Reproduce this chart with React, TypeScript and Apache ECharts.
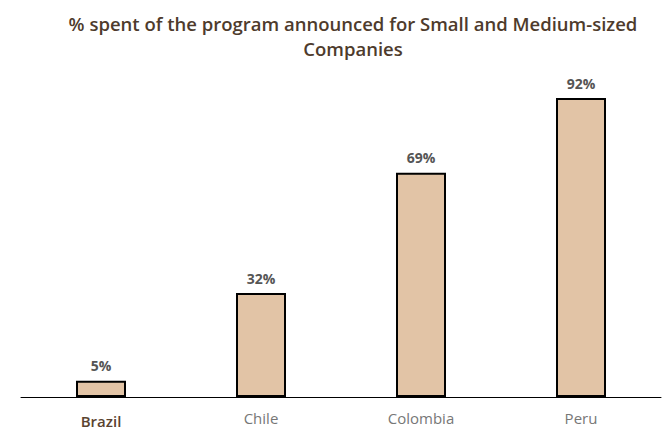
import React, { useEffect, useRef } from "react";
import * as echarts from "echarts";

const categories = ["Brazil", "Chile", "Colombia", "Peru"];
const values = [5, 32, 69, 92];
const titleText = "% spent of the program announced for Small and Medium-sized\nCompanies";

export default function App() {
  const ref = useRef<HTMLDivElement>(null);
  useEffect(() => {
    document.body.style.margin = "0";
    if (!ref.current) return;
    const chart = echarts.init(ref.current, null, { renderer: "svg" });
    chart.setOption({
      animation: false,
      title: {
        text: titleText,
        left: 353,
        top: 11,
        padding: 0,
        textAlign: "center",
        textStyle: {
          fontFamily: "Open Sans",
          fontSize: 18.5,
          fontWeight: 600,
          color: "#4e3b2c",
          lineHeight: 25,
        },
      },
      grid: { left: 21, right: 7, top: 72, bottom: 33 },
      xAxis: {
        type: "category",
        data: categories,
        axisLine: { lineStyle: { color: "#000", width: 1 } },
        axisTick: { show: false },
        axisLabel: {
          margin: 13,
          fontFamily: "Open Sans",
          fontSize: 15,
          formatter: (v: string, i: number) => (i === 0 ? "{b|" + v + "}" : "{n|" + v + "}"),
          rich: {
            b: { fontFamily: "Open Sans", fontSize: 15, fontWeight: 600, color: "#5a4330", padding: [3, 0, 0, 0] },
            n: { fontFamily: "Open Sans", fontSize: 15, fontWeight: 400, color: "#777777" },
          },
        },
      },
      yAxis: {
        type: "value",
        min: 0,
        max: 100,
        show: false,
        splitLine: { show: false },
      },
      series: [
        {
          type: "bar",
          data: values,
          barWidth: 50,
          itemStyle: { color: "#e2c4a6", borderColor: "#000", borderWidth: 2 },
          label: {
            show: true,
            position: "top",
            distance: 8,
            formatter: "{c}%",
            fontFamily: "Open Sans",
            fontSize: 14,
            fontWeight: 700,
            color: "#555555",
          },
        },
      ],
    });
    return () => chart.dispose();
  }, []);
  return <div ref={ref} style={{ width: 668, height: 430 }} />;
}
